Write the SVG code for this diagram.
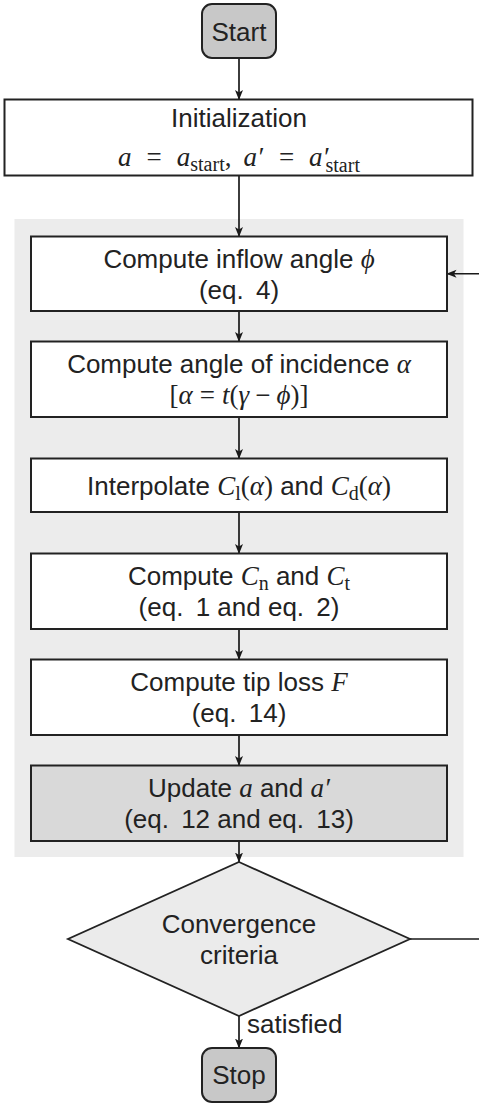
<svg xmlns="http://www.w3.org/2000/svg" width="479" height="1104" viewBox="0 0 479 1104">
<defs>
<marker id="ah" markerWidth="10" markerHeight="10" refX="9.5" refY="5" orient="auto" markerUnits="userSpaceOnUse">
<path d="M0,1 L10,5 L0,9 L2.5,5 z" fill="#1a1a1a"/>
</marker>
<style>
.box{fill:#fff;stroke:#222;stroke-width:2}
.upd{fill:#d9d9d9;stroke:#222;stroke-width:2}
.term{fill:#c8c8c8;stroke:#222;stroke-width:2}
.dia{fill:#ebebeb;stroke:#222;stroke-width:1.8}
.t{font-family:"Liberation Sans",Arial,sans-serif;font-size:26px;fill:#222;text-anchor:middle}
.lbl{font-family:"Liberation Sans",Arial,sans-serif;font-size:26px;fill:#222}
.m{font-family:"Liberation Serif","DejaVu Serif",serif;font-style:italic;font-size:27px}
.r{font-family:"Liberation Serif","DejaVu Serif",serif;font-style:normal;font-size:27px}
.s{font-family:"Liberation Serif","DejaVu Serif",serif;font-style:normal;font-size:20px}
.c{fill:none;stroke:#1a1a1a;stroke-width:1.7;marker-end:url(#ah)}
</style>
</defs>

<rect id="loop-panel" x="14.5" y="219" width="449" height="638" fill="#ececec"/>

<g id="connectors">
<path class="c" d="M239,58 V99.5"/>
<path class="c" d="M239,175.5 V236.5"/>
<path class="c" d="M239,311 V341.5"/>
<path class="c" d="M239,417 V458.5"/>
<path class="c" d="M239,512 V553.5"/>
<path class="c" d="M239,629 V659.5"/>
<path class="c" d="M239,735 V765.5"/>
<path class="c" d="M239,841 V862"/>
<path class="c" d="M239,1016 V1048"/>
<path class="c" d="M410,939 H484 V273.75 H447"/>
<text class="lbl" x="247" y="1033">satisfied</text>
</g>

<g id="start">
<rect class="term" x="202" y="4" width="74" height="54" rx="10"/>
<text class="t" x="239" y="40.5">Start</text>
</g>

<g id="init">
<rect class="box" x="4.5" y="99.5" width="468" height="76"/>
<text class="t" x="239" y="127">Initialization</text>
<text class="t" x="239" y="166"><tspan class="m">a</tspan><tspan class="r" dx="15">=</tspan><tspan class="m" dx="15">a</tspan><tspan class="s" dy="5">start</tspan><tspan class="r" dy="-5">,</tspan><tspan class="m" dx="12">a′</tspan><tspan class="r" dx="16">=</tspan><tspan class="m" dx="15">a′</tspan><tspan class="s" dy="6" dx="-3">start</tspan></text>
</g>

<g id="inflow">
<rect class="box" x="31" y="236.5" width="416" height="74.5"/>
<text class="t" x="239" y="267.5">Compute inflow angle <tspan class="m">ϕ</tspan></text>
<text class="t" x="239" y="298.5">(eq.<tspan dx="5"> 4)</tspan></text>
</g>

<g id="incidence">
<rect class="box" x="31" y="341.5" width="416" height="75.5"/>
<text class="t" x="239" y="373">Compute angle of incidence <tspan class="m">α</tspan></text>
<text class="t" x="239" y="404"><tspan class="r">[</tspan><tspan class="m">α</tspan><tspan class="r" dx="7">=</tspan><tspan class="m" dx="7">t</tspan><tspan class="r">(</tspan><tspan class="m">γ</tspan><tspan class="r" dx="6">−</tspan><tspan class="m" dx="6">ϕ</tspan><tspan class="r">)]</tspan></text>
</g>

<g id="interpolate">
<rect class="box" x="31" y="458.5" width="416" height="53.5"/>
<text class="t" x="239" y="494.5">Interpolate <tspan class="m">C</tspan><tspan class="s" dy="5">l</tspan><tspan class="r" dy="-5">(</tspan><tspan class="m">α</tspan><tspan class="r">)</tspan> and <tspan class="m">C</tspan><tspan class="s" dy="5">d</tspan><tspan class="r" dy="-5">(</tspan><tspan class="m">α</tspan><tspan class="r">)</tspan></text>
</g>

<g id="coefficients">
<rect class="box" x="31" y="553.5" width="416" height="75.5"/>
<text class="t" x="239" y="585">Compute <tspan class="m">C</tspan><tspan class="s" dy="5">n</tspan><tspan dy="-5"> and </tspan><tspan class="m">C</tspan><tspan class="s" dy="5">t</tspan></text>
<text class="t" x="239" y="616">(eq.<tspan dx="5"> 1 and eq.</tspan><tspan dx="5"> 2)</tspan></text>
</g>

<g id="tiploss">
<rect class="box" x="31" y="659.5" width="416" height="75.5"/>
<text class="t" x="239" y="691">Compute tip loss <tspan class="m">F</tspan></text>
<text class="t" x="239" y="722">(eq.<tspan dx="5"> 14)</tspan></text>
</g>

<g id="update">
<rect class="upd" x="31" y="765.5" width="416" height="75.5"/>
<text class="t" x="239" y="797">Update <tspan class="m">a</tspan> and <tspan class="m">a′</tspan></text>
<text class="t" x="239" y="828">(eq.<tspan dx="5"> 12 and eq.</tspan><tspan dx="5"> 13)</tspan></text>
</g>

<g id="convergence">
<polygon class="dia" points="239,862 410,939 239,1016 68,939"/>
<text class="t" x="239" y="933">Convergence</text>
<text class="t" x="239" y="964">criteria</text>
</g>

<g id="stop">
<rect class="term" x="202" y="1048" width="74" height="54" rx="10"/>
<text class="t" x="239" y="1084">Stop</text>
</g>
</svg>
